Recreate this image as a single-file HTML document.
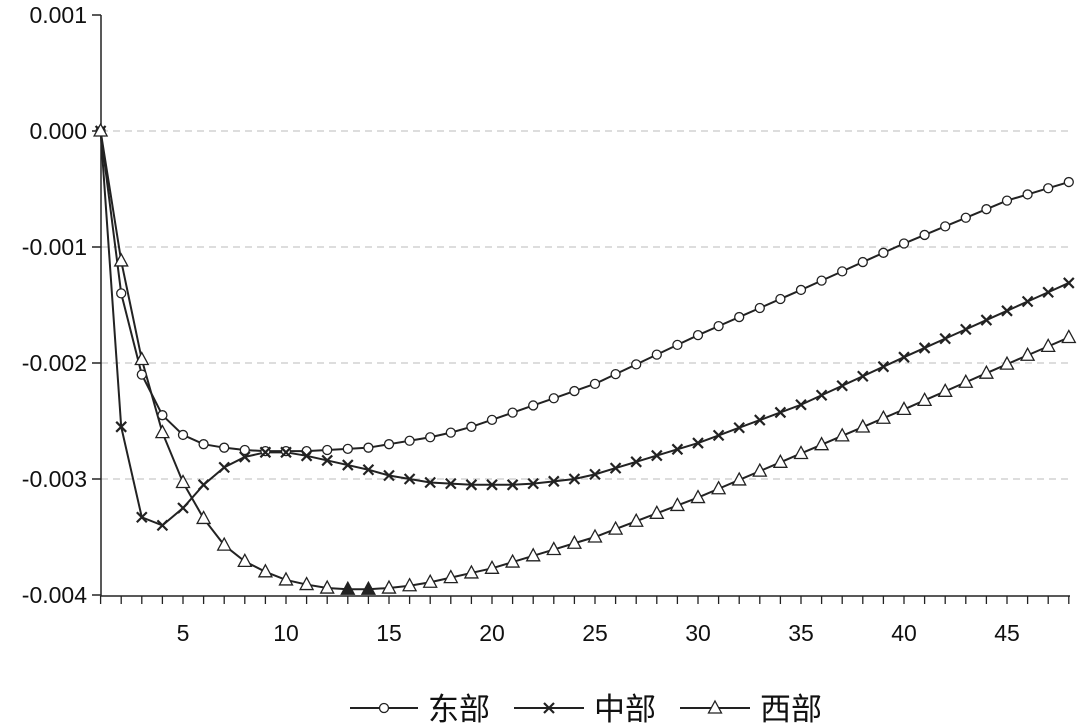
<!DOCTYPE html><html><head><meta charset="utf-8"><style>body{margin:0;background:#fff}svg{display:block}</style></head><body>
<svg id="s" width="1080" height="728" xmlns="http://www.w3.org/2000/svg" font-family="Liberation Sans, Noto Sans CJK SC, sans-serif"></svg>
<script>
const s=document.getElementById('s');let h='';
const X=p=>100.6+(p-1)*20.6, Y=v=>131-v*116000;
[0,-0.001,-0.002,-0.003].forEach(v=>h+=`<line x1="101" x2="1070" y1="${Y(v)}" y2="${Y(v)}" stroke="#bbb" stroke-dasharray="7,5"/>`);
h+=`<line x1="101" y1="15" x2="101" y2="596" stroke="#222" stroke-width="1.5"/><line x1="101" y1="596" x2="1070" y2="596" stroke="#222" stroke-width="1.5"/>`;
[0.001,0,-0.001,-0.002,-0.003,-0.004].forEach(v=>{h+=`<line x1="92" x2="101" y1="${Y(v)}" y2="${Y(v)}" stroke="#222" stroke-width="1.5"/><text x="87" y="${Y(v)+8}" font-size="23" text-anchor="end" fill="#111">${v.toFixed(3)}</text>`});
for(let p=1;p<=48;p++){h+=`<line x1="${X(p)}" x2="${X(p)}" y1="596" y2="604" stroke="#222" stroke-width="1.3"/>`;if(p%5==0)h+=`<text x="${X(p)}" y="641" font-size="23" text-anchor="middle" fill="#111">${p}</text>`}
function interp(a){const r=[];const k=Object.keys(a).map(Number).sort((x,y)=>x-y);for(let p=1;p<=48;p++){let i=0;while(k[i+1]<p)i++;const p0=k[i],p1=k[i+1]??p0;r.push(p0==p1||p==p0?a[p0]:a[p0]+(a[p1]-a[p0])*(p-p0)/(p1-p0))}return r}
const E=interp({1:0,2:-.0014,3:-.0021,4:-.00245,5:-.00262,6:-.0027,7:-.00273,8:-.00275,9:-.00276,11:-.00276,12:-.00275,13:-.00274,14:-.00273,15:-.0027,16:-.00267,17:-.00264,18:-.0026,19:-.00255,20:-.00249,25:-.00218,30:-.00176,35:-.00137,40:-.00097,45:-.0006,48:-.00044});
const M=interp({1:0,2:-.00255,3:-.00333,4:-.0034,5:-.00325,6:-.00305,7:-.0029,8:-.00281,9:-.00277,10:-.00277,11:-.0028,12:-.00284,13:-.00288,14:-.00292,15:-.00297,16:-.003,17:-.00303,18:-.00304,19:-.00305,21:-.00305,22:-.00304,23:-.00302,24:-.003,25:-.00296,30:-.00269,35:-.00236,40:-.00195,45:-.00155,48:-.00131});
const W=interp({1:0,2:-.00112,3:-.00197,4:-.0026,5:-.00303,6:-.00334,7:-.00357,8:-.00371,9:-.0038,10:-.00387,11:-.00391,12:-.00394,13:-.00395,14:-.00395,15:-.00394,16:-.00392,17:-.00389,18:-.00385,19:-.00381,20:-.00377,25:-.0035,30:-.00316,35:-.00278,40:-.0024,45:-.00201,48:-.00178});
function line(d){return `<polyline fill="none" stroke="#222" stroke-width="2" points="${d.map((v,i)=>X(i+1)+','+Y(v)).join(' ')}"/>`}
const circ=(x,y)=>`<circle cx="${x}" cy="${y}" r="4.5" fill="#fff" stroke="#222" stroke-width="1.3"/>`;
const cross=(x,y)=>`<path d="M${x-5},${y-5}L${x+5},${y+5}M${x-5},${y+5}L${x+5},${y-5}" stroke="#222" stroke-width="2.2"/>`;
const tri=(x,y,f)=>`<path d="M${x},${y-7}L${x+6.5},${y+5}L${x-6.5},${y+5}Z" fill="${f||'#fff'}" stroke="#222" stroke-width="1.3"/>`;
h+=line(E)+line(M)+line(W);
E.forEach((v,i)=>h+=circ(X(i+1),Y(v)));M.forEach((v,i)=>h+=cross(X(i+1),Y(v)));W.forEach((v,i)=>h+=tri(X(i+1),Y(v),(i==12||i==13)?'#222':null));
h+=`<line x1="350" x2="418" y1="708" y2="708" stroke="#222" stroke-width="2"/>`+circ(384,708)+`<text x="428" y="720" font-size="31" fill="#111">东部</text>`;
h+=`<line x1="514" x2="584" y1="708" y2="708" stroke="#222" stroke-width="2"/>`+cross(549,708)+`<text x="594" y="720" font-size="31" fill="#111">中部</text>`;
h+=`<line x1="680" x2="750" y1="708" y2="708" stroke="#222" stroke-width="2"/>`+tri(715,708)+`<text x="760" y="720" font-size="31" fill="#111">西部</text>`;
s.innerHTML=h;
</script></body></html>
